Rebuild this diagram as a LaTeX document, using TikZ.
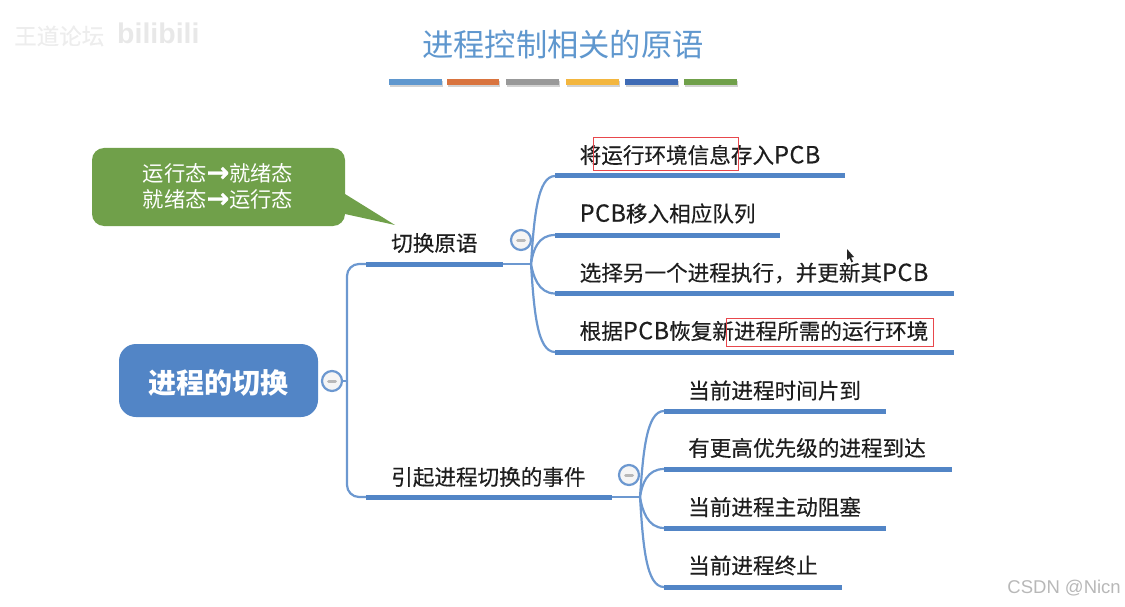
\documentclass[tikz,border=0pt]{standalone}
\usepackage{fontspec}
\setmainfont{Noto Sans CJK SC}
\newfontfamily\leaffont[FakeBold=0.35]{Noto Sans CJK SC}
\newfontfamily\pcbfont[FakeBold=0.35,LetterSpace=2]{Noto Sans CJK SC}
\newfontfamily\arrowfont[FakeBold=0.6]{DejaVu Sans}
\newfontfamily\wmfont{Liberation Sans}
\newcommand{\pcbword}{{\pcbfont\fontsize{23.5}{24}\selectfont PCB}}
\newcommand{\thickarrow}{{\arrowfont\bfseries\fontsize{27}{26}\selectfont →}}
\usetikzlibrary{shadows}
\definecolor{mapblue}{HTML}{5285C6}
\definecolor{linkblue}{HTML}{6C98D0}
\definecolor{titleblue}{HTML}{5F97CE}
\definecolor{calloutgreen}{HTML}{70A04A}
\definecolor{inkc}{HTML}{1E1E1E}
\definecolor{boxred}{HTML}{E8474C}
\definecolor{barorange}{HTML}{D9743F}
\definecolor{bargray}{HTML}{999999}
\definecolor{baryellow}{HTML}{F3B63F}
\definecolor{barblue}{HTML}{3F6BB5}
\tikzset{
  leaf/.style={anchor=west,inner sep=0pt,text=inkc,font=\leaffont\fontsize{21.6}{24}\selectfont},
  underl/.style={line width=5pt,mapblue},
  link/.style={line width=2.2pt,linkblue,line cap=round},
  minus/.style={circle,draw=linkblue,line width=2.2pt,fill=black!4,minimum size=20pt,inner sep=0pt},
  minusbar/.style={line width=3pt,black!28,line cap=round},
  bar/.style={minimum height=6pt,inner sep=0pt,outer sep=0pt,drop shadow={shadow xshift=0.5pt,shadow yshift=-2pt,opacity=.35}},
  redbox/.style={draw=boxred,line width=1pt,fill=none,inner sep=0pt,anchor=north west}
}
\begin{document}
\begin{tikzpicture}[x=1pt,y=-1pt]
\useasboundingbox (0,0) rectangle (1125,607);
% watermarks
\node[anchor=west,inner sep=0pt,text=black!7,font=\leaffont\fontsize{22.5}{24}\selectfont] (wm1) at (14,36) {王道论坛};
\node[anchor=west,inner sep=0pt,text=black!9,font=\wmfont\bfseries\fontsize{28.5}{34}\selectfont] (wm2) at (117,33) {bilibili};
\node[anchor=east,inner sep=0pt,text=black!28,font=\wmfont\fontsize{18.5}{20}\selectfont] (wm3) at (1121,588) {CSDN @Nicn};
% title
\node[inner sep=0pt,text=titleblue,font=\fontsize{31.3}{34}\selectfont] (title) at (563,45) {进程控制相关的原语};
\node[bar,minimum width=53pt,fill=titleblue] (b1) at (415.5,82) {};
\node[bar,minimum width=52pt,fill=barorange] (b2) at (473,82) {};
\node[bar,minimum width=53pt,fill=bargray] (b3) at (532.5,82) {};
\node[bar,minimum width=53pt,fill=baryellow] (b4) at (592.5,82) {};
\node[bar,minimum width=53pt,fill=barblue] (b5) at (651.5,82) {};
\node[bar,minimum width=53pt,fill=calloutgreen] (b6) at (710.5,82) {};
% callout
\fill[calloutgreen] (104,148) -- (333,148) arc[start angle=-90,end angle=0,radius=12] -- (345,194) -- (395,225) -- (345,214) arc[start angle=0,end angle=90,radius=12] -- (104,226) arc[start angle=90,end angle=180,radius=12] -- (92,160) arc[start angle=180,end angle=270,radius=12] -- cycle;
\node[inner sep=0pt,text=white,align=center,font=\fontsize{21.3}{26}\selectfont] (callout) at (218,186.5) {运行态\thickarrow 就绪态\\就绪态\thickarrow 运行态};
% root
\node[fill=mapblue,rounded corners=17pt,minimum width=199pt,minimum height=73pt,inner sep=0pt] (root) at (218.5,380.5) {};
\node[inner sep=0pt,text=white,font=\bfseries\fontsize{28}{30}\selectfont] (roottext) at (218.5,383) {进程的切换};
\node[minus] (m0) at (332,381) {};
\draw[minusbar] (328.5,381) -- (335.5,381);
% coordinates
\coordinate (trunk) at (347,381);
\coordinate (a1) at (366,264); \coordinate (a2) at (503,264);
\coordinate (c1) at (366,497); \coordinate (c2) at (612,497);
\coordinate (ja) at (531,264); \coordinate (jc) at (640,497);
\foreach \n/\y/\e in {l1/176/845,l2/235/780,l3/293.5/954,l4/352/954}{
  \coordinate (\n s) at (555,\y); \coordinate (\n e) at (\e,\y);}
\foreach \n/\y/\e in {r1/411/886,r2/469/952,r3/528/886,r4/587/842}{
  \coordinate (\n s) at (664,\y); \coordinate (\n e) at (\e,\y);}
% links
\draw[link] (m0) -- (trunk);
\draw[link,rounded corners=12pt] (a1) -- (trunk |- a1) -- (trunk |- c1) -- (c1);
\draw[link] (a2) -- (ja);
\draw[link] (c2) -- (jc);
\draw[link] (ja) .. controls (534,220) and (537,176) .. (l1s);
\draw[link] (ja) .. controls (533,250) and (538,235) .. (l2s);
\draw[link] (ja) .. controls (533,275) and (538,293.5) .. (l3s);
\draw[link] (ja) .. controls (534,310) and (537,352) .. (l4s);
\draw[link] (jc) .. controls (643,455) and (646,411) .. (r1s);
\draw[link] (jc) .. controls (642,484) and (647,469) .. (r2s);
\draw[link] (jc) .. controls (642,509) and (647,528) .. (r3s);
\draw[link] (jc) .. controls (643,545) and (646,587) .. (r4s);
% underlines
\draw[underl] (a1) -- (a2);
\draw[underl] (c1) -- (c2);
\foreach \n in {l1,l2,l3,l4,r1,r2,r3,r4}{\draw[underl] (\n s) -- (\n e);}
% minus
\node[minus] (m1) at (521,240) {};
\draw[minusbar] (517.5,240) -- (524.5,240);
\node[minus] (m2) at (629,475) {};
\draw[minusbar] (625.5,475) -- (632.5,475);
% labels
\node[leaf] (ta) at (391,243) {切换原语};
\node[leaf] (tc) at (391,477) {引起进程切换的事件};
\node[leaf] (tl1) at (579.5,155) {将运行环境信息存入\pcbword};
\node[leaf] (tl2) at (579.5,213.5) {\pcbword 移入相应队列};
\node[leaf] (tl3) at (579.5,273) {选择另一个进程执行，并更新其\pcbword};
\node[leaf] (tl4) at (579.5,331) {根据\pcbword 恢复新进程所需的运行环境};
\node[leaf] (tr1) at (688,390.5) {当前进程时间片到};
\node[leaf] (tr2) at (688,448) {有更高优先级的进程到达};
\node[leaf] (tr3) at (688,507) {当前进程主动阻塞};
\node[leaf] (tr4) at (688,565.5) {当前进程终止};
% red boxes
\node[redbox,minimum width=145.5pt,minimum height=33.5pt] (rb1) at (592.5,137) {};
\node[redbox,minimum width=207pt,minimum height=28pt] (rb2) at (726,317.5) {};
% pointer
\fill[black!85] (847,249) -- (847,260) -- (849.5,258) -- (851.5,262.5) -- (853,261.5) -- (851,257.5) -- (854,257) -- cycle;
\end{tikzpicture}
\end{document}
